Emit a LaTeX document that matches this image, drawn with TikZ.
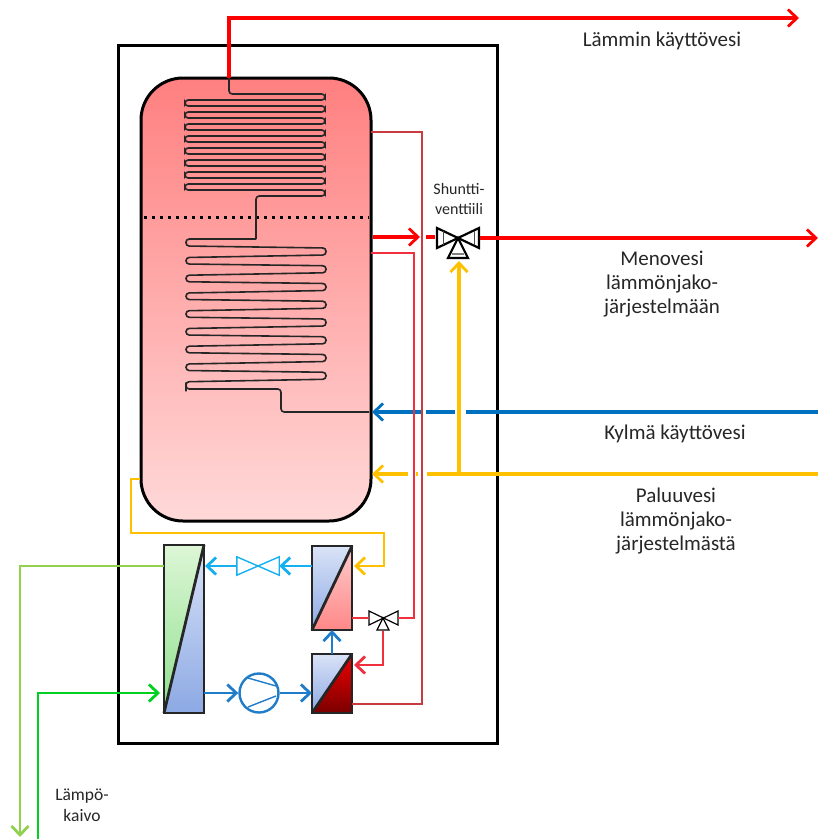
\documentclass[tikz,border=0pt]{standalone}
\usepackage{fontspec}
\setmainfont{Carlito}
\usepackage{tikz}
\usetikzlibrary{arrows.meta,calc,positioning}
\definecolor{HeatRed}{HTML}{FF0000}
\definecolor{LoopRed}{HTML}{F0303C}
\definecolor{DarkLoop}{HTML}{C83C40}
\definecolor{ReturnYellow}{HTML}{FFC000}
\definecolor{ColdBlue}{HTML}{0070C0}
\definecolor{CircuitBlue}{HTML}{1E7CC8}
\definecolor{SkyBlue}{HTML}{14B0F0}
\definecolor{WellGreen}{HTML}{00D020}
\definecolor{PaleGreen}{HTML}{92D050}
\definecolor{LabelGrey}{HTML}{262626}
\definecolor{HxBlueTop}{HTML}{DAE3F7}
\definecolor{HxBlueBot}{HTML}{8CA9E4}
\definecolor{HxGreenTop}{HTML}{DDF6D6}
\definecolor{HxGreenBot}{HTML}{8EE08E}
\definecolor{HxPinkTop}{HTML}{FFCCCC}
\definecolor{HxPinkBot}{HTML}{FF8888}
\definecolor{HxRedTop}{HTML}{F00000}
\definecolor{HxRedBot}{HTML}{7A0000}
\tikzset{
    % Arrow styles
    myarrow/.style={
        -{Straight Barb[length=9pt,width=17pt,line width=2.8pt]}
    },
    % Thick pipes
    thickpipe/.style={line width=3.2pt},
    % Thin pipes
    thinpipe/.style={line width=2.8pt},
    % Heat exchanger outline
    hxbox/.style={
        minimum width=40pt,
        inner sep=0pt,
        outer sep=0pt
    },
    hxline/.style={draw=black!85, line width=2.8pt, line join=miter},
    % Coil line
    coilline/.style={draw=black!85, line width=1.6pt, rounded corners=3.2pt},
    % Valve outline
    valveline/.style={draw=black, fill=white, line join=miter},
    % Text label
    mylabel/.style={
        align=center,
        text=LabelGrey,
        font=\fontsize{21}{24.4}\selectfont
    },
    smalllabel/.style={
        align=center,
        text=LabelGrey
    }
}
% heat exchanger: name, upper triangle top/bottom, lower triangle top/bottom
\newcommand{\hxfill}[5]{
    \fill[top color=#2, bottom color=#3] (#1.south west) -- (#1.north west) -- (#1.north east) -- cycle;
    \fill[top color=#4, bottom color=#5] (#1.south west) -- (#1.south east) -- (#1.north east) -- cycle;
    \draw[hxline] (#1.south west) rectangle (#1.north east);
    \draw[hxline] (#1.south west) -- (#1.north east);
}
\begin{document}
\begin{tikzpicture}[x=1pt,y=-1pt]
    \useasboundingbox (0,0) rectangle (818,839);

    % Housing and tank
    \node[draw=black, line width=3pt, minimum width=379pt, minimum height=698pt, inner sep=0pt] (housing) at (307.5,394) {};
    \node[draw=black, line width=3pt, rounded corners=42pt, minimum width=230pt, minimum height=443pt, inner sep=0pt,
        top color=red!50, bottom color=red!15] (tank) at (256,299.5) {};
    \coordinate (dotl) at (144,217.5);
    \coordinate (dotr) at (369,217.5);
    \draw[line width=3pt, dash pattern=on 3pt off 5pt] (dotl) -- (dotr);

    % Upper coil
    \coordinate (coiltop) at (229,78);
    \draw[coilline] (coiltop) -- (229,94) -- (325,94) -- (325,100)
        foreach \i in {0,...,7} {
            -- (185,100+12*\i) -- (185,106+12*\i) -- (325,106+12*\i) -- (325,112+12*\i)
        }
        -- (256,196) -- (256,239);
    % Lower coil
    \draw[coilline] (256,239) -- (186,239) -- (186,246)
        foreach \i in {0,...,7} {
            -- (326,248+17.75*\i) -- (326,255+17.75*\i) -- (186,257.5+17.75*\i) -- (186,264+17.75*\i)
        }
        -- (186,389) -- (281,389) -- (281,412) -- (369,412);

    % Heat exchangers
    \node[hxbox, minimum height=168pt] (hxwell) at (184,629) {};
    \node[hxbox, minimum height=84pt] (hxcond) at (332,588) {};
    \node[hxbox, minimum height=59pt] (hxgas) at (332,683.5) {};
    \hxfill{hxwell}{HxGreenTop}{HxGreenBot}{HxBlueTop}{HxBlueBot}
    \hxfill{hxcond}{HxBlueTop}{HxBlueBot}{HxPinkTop}{HxPinkBot}
    \hxfill{hxgas}{HxBlueTop}{HxBlueBot}{HxRedTop}{HxRedBot}

    % Compressor
    \node[draw=CircuitBlue, circle, line width=2.4pt, minimum size=39pt, inner sep=0pt] (comp) at (259,693) {};
    \draw[CircuitBlue, line width=1.4pt] ($(comp.center)+(-11,-15)$) -- ($(comp.center)+(17,-7)$);
    \draw[CircuitBlue, line width=1.4pt] ($(comp.center)+(-11,14)$) -- ($(comp.center)+(17,3)$);

    % Main mixing valve
    \coordinate (mainv) at (458,238);
    \coordinate (mainvl) at (437,238);
    \coordinate (mainvr) at (480,238);
    \coordinate (mainvb) at (459,261);
    \draw[valveline, line width=2.2pt] (437,228) -- (479,248) -- (479,228) -- (437,248) -- cycle;
    \draw[black!70, line width=1pt] (443,231) -- (443,245) (474,231) -- (474,245);
    \draw[valveline, line width=2.2pt] (mainv) -- (468,258) -- (448,258) -- cycle;
    \draw[black!50, line width=1.5pt] (452,254) -- (464,254);

    % Small mixing valve
    \coordinate (smallv) at (383,618);
    \coordinate (smallvl) at (369,618);
    \coordinate (smallvr) at (398,618);
    \coordinate (smallvb) at (383,631);
    \draw[valveline, line width=1.2pt] (369,611) -- (398,625) -- (398,611) -- (369,625) -- cycle;
    \draw[valveline, line width=1.2pt] (smallv) -- (389,630) -- (377,630) -- cycle;

    % Expansion valve
    \node[inner sep=0pt, minimum width=42pt, minimum height=18pt] (expv) at (258,566) {};
    \draw[SkyBlue, line width=1.4pt, fill=white] (expv.north west) -- (expv.south east) -- (expv.north east) -- (expv.south west) -- cycle;

    % Domestic hot water
    \coordinate (dhwend) at (799,18);
    \draw[HeatRed, thickpipe, myarrow] (coiltop) -- (229,18) -- (dhwend);

    % Cold water and return, with gaps at the crossings
    \draw[ColdBlue, thickpipe, myarrow] (818,412) -- (372,412);
    \draw[ReturnYellow, thickpipe, myarrow] (818,474) -- (372,474);
    \draw[white, line width=5pt] (422,412) -- (426,412) (455,412) -- (466,412)
        (408,474) -- (416,474) (418,474) -- (427,474);
    \draw[ReturnYellow, thickpipe, myarrow] (459,474) -- (mainvb);

    % Tank side pipes
    \draw[DarkLoop, thinpipe] (371,132) -- (422,132) -- (422,704) -- (hxgas.east |- 0,704);
    \draw[LoopRed, thinpipe] (371,253) -- (414,253) -- (414,618) -- (smallvr);
    \draw[LoopRed, thinpipe] (smallvl) -- (hxcond.east |- smallvl);
    \draw[LoopRed, thinpipe, myarrow] (smallvb) -- (383,665) -- ($(hxgas.east |- 0,665)+(2,0)$);

    % Supply pipe
    \coordinate (gapstart) at (426,237);
    \draw[HeatRed, thickpipe, myarrow] (tank.east |- 0,237) -- (420,237);
    \draw[HeatRed, thickpipe] (gapstart) -- (435,237);
    \draw[HeatRed, thickpipe, myarrow] (mainvr) -- (818,238);

    % Heat pump circuit
    \draw[ReturnYellow, thinpipe, myarrow] (tank.west |- 0,479) -- (131,479) -- (131,533) -- (384,533) -- (384,566) -- ($(hxcond.east |- 0,566)+(2,0)$);
    \draw[SkyBlue, thinpipe, myarrow] (hxcond.west |- expv) -- (expv.east);
    \draw[SkyBlue, thinpipe, myarrow] (expv.west) -- ($(hxwell.east |- expv)+(1,0)$);
    \draw[CircuitBlue, thinpipe, myarrow] (hxwell.east |- comp) -- (comp.west);
    \draw[CircuitBlue, thinpipe, myarrow] (comp.east) -- (hxgas.west |- comp);
    \draw[CircuitBlue, thinpipe, myarrow] (hxgas.north) -- (hxcond.south);

    % Ground loop
    \coordinate (wellout) at (20,837);
    \coordinate (wellin) at (38,839);
    \draw[PaleGreen, thinpipe, myarrow] (hxwell.west |- expv) -- (20,566) -- (wellout);
    \draw[WellGreen, thinpipe, myarrow] (wellin) -- (38,693) -- (160,693);

    % Labels
    \node[mylabel] (dhwlabel) at (662,41) {Lämmin käyttövesi};
    \node[smalllabel, font=\fontsize{16}{19.5}\selectfont] (shuntlabel) at (459,199) {Shuntti-\\venttiili};
    \node[mylabel] (supplylabel) at (662,284) {Menovesi\\lämmönjako-\\järjestelmään};
    \node[mylabel] (coldlabel) at (675,434) {Kylmä käyttövesi};
    \node[mylabel] (returnlabel) at (676,521) {Paluuvesi\\lämmönjako-\\järjestelmästä};
    \node[smalllabel, font=\fontsize{17.5}{21}\selectfont] (welllabel) at (82,805) {Lämpö-\\kaivo};
\end{tikzpicture}
\end{document}
